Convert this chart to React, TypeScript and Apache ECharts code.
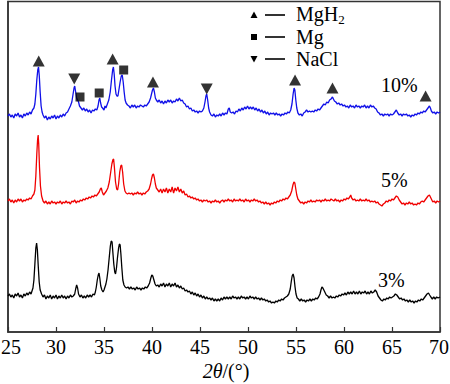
import React, { useEffect, useRef } from "react";
import * as echarts from "echarts";

// 2θ (deg) vs intensity (a.u., offset per curve)
const xTicks = [25, 30, 35, 40, 45, 50, 55, 60, 65, 70];

const curve10: [number, number][] = [
[25.0,216],[25.15,218],[25.3,215],[25.45,217],[25.6,214],[25.75,218],[25.9,216],[26.05,219],[26.2,215],[26.35,217],[26.5,214],[26.65,218],[26.8,216],[26.95,219],[27.1,217],[27.25,220],[27.4,218],[27.55,222],[27.7,224],[27.8,228],[27.9,238],[28.0,252],[28.1,262],[28.18,265],[28.26,256],[28.35,240],[28.45,226],[28.55,220],[28.65,217],[28.8,214],[28.95,216],[29.1,212],[29.25,215],[29.4,213],[29.55,216],[29.7,214],[29.85,217],[30.0,213],[30.15,216],[30.3,214],[30.45,217],[30.6,215],[30.75,218],[30.9,216],[31.05,219],[31.2,220],[31.35,223],[31.5,226],[31.65,230],[31.78,238],[31.88,244],[31.95,246],[32.05,240],[32.15,234],[32.25,232],[32.35,230],[32.45,226],[32.6,224],[32.75,222],[32.9,224],[33.05,221],[33.2,223],[33.35,220],[33.5,222],[33.65,219],[33.8,222],[33.95,221],[34.1,223],[34.25,222],[34.38,226],[34.48,232],[34.56,234],[34.65,229],[34.75,225],[34.85,224],[35.0,222],[35.1,226],[35.2,224],[35.35,228],[35.5,232],[35.65,240],[35.78,252],[35.9,262],[35.98,265],[36.06,258],[36.15,246],[36.25,238],[36.35,236],[36.45,236],[36.55,242],[36.68,250],[36.8,256],[36.9,257],[37.0,250],[37.1,240],[37.2,232],[37.3,229],[37.45,227],[37.6,226],[37.75,224],[37.9,227],[38.05,225],[38.2,227],[38.35,224],[38.5,226],[38.65,225],[38.8,227],[38.95,226],[39.1,225],[39.25,227],[39.4,226],[39.55,228],[39.7,230],[39.85,234],[39.95,238],[40.05,242],[40.15,244],[40.25,240],[40.35,234],[40.45,232],[40.6,230],[40.75,232],[40.9,229],[41.05,231],[41.2,228],[41.35,231],[41.5,229],[41.65,232],[41.8,230],[41.95,232],[42.1,229],[42.25,231],[42.4,230],[42.55,233],[42.7,231],[42.85,234],[43.0,231],[43.15,232],[43.3,229],[43.45,228],[43.6,225],[43.75,226],[43.9,223],[44.05,224],[44.2,221],[44.35,222],[44.5,220],[44.65,221],[44.8,219],[44.95,221],[45.1,220],[45.25,221],[45.4,224],[45.52,230],[45.62,236],[45.7,238],[45.8,232],[45.9,224],[46.0,220],[46.15,217],[46.3,216],[46.45,218],[46.6,215],[46.75,217],[46.9,216],[47.05,218],[47.2,216],[47.35,219],[47.5,217],[47.65,219],[47.8,218],[47.95,223],[48.05,224],[48.15,220],[48.3,219],[48.45,220],[48.6,218],[48.75,221],[48.9,220],[49.05,223],[49.2,221],[49.35,224],[49.5,222],[49.65,225],[49.8,223],[49.95,226],[50.1,223],[50.25,225],[50.4,223],[50.55,225],[50.7,222],[50.85,224],[51.0,221],[51.15,223],[51.3,220],[51.45,222],[51.6,219],[51.75,221],[51.9,218],[52.05,220],[52.2,217],[52.35,219],[52.5,218],[52.65,219],[52.8,217],[52.95,219],[53.1,217],[53.25,218],[53.4,216],[53.55,218],[53.7,217],[53.85,219],[54.0,218],[54.15,220],[54.3,219],[54.45,222],[54.58,228],[54.7,238],[54.8,244],[54.88,242],[54.98,232],[55.08,224],[55.2,219],[55.35,217],[55.5,218],[55.65,216],[55.8,219],[55.95,220],[56.1,222],[56.25,220],[56.4,221],[56.55,220],[56.7,221],[56.85,220],[57.0,222],[57.15,221],[57.3,223],[57.45,222],[57.6,224],[57.75,226],[57.9,228],[58.05,227],[58.2,230],[58.35,229],[58.5,232],[58.65,233],[58.8,235],[58.9,233],[59.0,231],[59.15,230],[59.3,228],[59.45,229],[59.6,227],[59.75,228],[59.9,226],[60.05,227],[60.2,225],[60.35,226],[60.5,224],[60.65,227],[60.8,225],[60.95,226],[61.1,224],[61.25,227],[61.4,225],[61.55,226],[61.7,224],[61.85,226],[62.0,225],[62.15,227],[62.3,224],[62.45,226],[62.6,224],[62.75,227],[62.9,225],[63.05,226],[63.2,224],[63.35,223],[63.5,220],[63.65,219],[63.8,217],[63.95,218],[64.1,216],[64.25,218],[64.4,217],[64.55,218],[64.7,216],[64.85,218],[65.0,217],[65.15,218],[65.3,220],[65.45,222],[65.6,219],[65.75,217],[65.9,218],[66.05,216],[66.2,218],[66.35,217],[66.5,218],[66.65,216],[66.8,217],[66.95,215],[67.1,217],[67.25,216],[67.4,218],[67.55,217],[67.7,219],[67.85,218],[68.0,220],[68.15,219],[68.3,221],[68.45,220],[68.6,222],[68.75,224],[68.9,226],[69.0,224],[69.1,221],[69.25,219],[69.4,220],[69.55,218],[69.7,220],[69.85,219],[70.0,220]
];

const curve5: [number, number][] = [
[25.0,131],[25.15,133],[25.3,130],[25.45,132],[25.6,129],[25.75,132],[25.9,130],[26.05,133],[26.2,131],[26.35,133],[26.5,130],[26.65,132],[26.8,131],[26.95,133],[27.1,132],[27.25,134],[27.4,133],[27.55,136],[27.7,138],[27.8,142],[27.9,156],[28.0,178],[28.08,192],[28.14,197],[28.2,188],[28.28,165],[28.38,146],[28.5,136],[28.65,131],[28.8,129],[28.95,131],[29.1,128],[29.25,130],[29.4,128],[29.55,131],[29.7,129],[29.85,130],[30.0,128],[30.15,130],[30.3,129],[30.45,131],[30.6,128],[30.75,130],[30.9,129],[31.05,131],[31.2,129],[31.35,130],[31.5,128],[31.65,131],[31.8,130],[31.95,132],[32.1,129],[32.25,131],[32.4,130],[32.55,132],[32.7,131],[32.85,133],[33.0,132],[33.15,134],[33.3,133],[33.45,135],[33.6,134],[33.75,136],[33.9,135],[34.05,137],[34.2,136],[34.35,138],[34.5,140],[34.62,143],[34.72,144],[34.82,140],[34.95,137],[35.1,139],[35.25,141],[35.4,144],[35.55,150],[35.7,160],[35.82,168],[35.92,172],[36.0,173],[36.08,165],[36.2,150],[36.32,143],[36.42,142],[36.52,148],[36.64,160],[36.75,166],[36.84,167],[36.94,160],[37.05,148],[37.18,141],[37.3,139],[37.45,138],[37.6,139],[37.75,138],[37.9,139],[38.05,137],[38.2,139],[38.35,138],[38.5,140],[38.65,138],[38.8,139],[38.95,137],[39.1,139],[39.25,138],[39.4,140],[39.55,141],[39.7,143],[39.85,148],[39.95,153],[40.05,157],[40.15,158],[40.25,154],[40.35,148],[40.45,144],[40.6,142],[40.75,140],[40.9,143],[41.05,139],[41.2,143],[41.35,140],[41.5,144],[41.65,139],[41.8,143],[41.95,140],[42.1,145],[42.25,139],[42.4,144],[42.55,141],[42.7,145],[42.85,140],[43.0,143],[43.15,139],[43.3,141],[43.45,137],[43.6,138],[43.75,135],[43.9,136],[44.05,134],[44.2,135],[44.35,133],[44.5,134],[44.65,132],[44.8,133],[44.95,131],[45.1,132],[45.25,130],[45.4,132],[45.55,131],[45.7,132],[45.85,130],[46.0,131],[46.15,129],[46.3,131],[46.45,130],[46.6,132],[46.75,130],[46.9,131],[47.05,129],[47.2,131],[47.35,132],[47.5,130],[47.65,132],[47.8,131],[47.95,133],[48.1,131],[48.25,132],[48.4,130],[48.55,133],[48.7,131],[48.85,132],[49.0,131],[49.15,133],[49.3,131],[49.45,132],[49.6,130],[49.75,133],[49.9,131],[50.05,132],[50.2,130],[50.35,132],[50.5,131],[50.65,133],[50.8,131],[50.95,132],[51.1,130],[51.25,131],[51.4,129],[51.55,130],[51.7,128],[51.85,130],[52.0,128],[52.15,129],[52.3,127],[52.45,129],[52.6,128],[52.75,130],[52.9,129],[53.05,131],[53.2,130],[53.35,132],[53.5,131],[53.65,133],[53.8,132],[53.95,134],[54.1,133],[54.25,135],[54.4,137],[54.55,141],[54.68,147],[54.78,150],[54.88,149],[54.98,143],[55.08,137],[55.2,133],[55.35,131],[55.5,129],[55.65,130],[55.8,128],[55.95,130],[56.1,129],[56.25,131],[56.4,130],[56.55,132],[56.7,130],[56.85,131],[57.0,130],[57.15,132],[57.3,131],[57.45,132],[57.6,130],[57.75,132],[57.9,131],[58.05,133],[58.2,131],[58.35,132],[58.5,131],[58.65,133],[58.8,132],[58.95,131],[59.1,133],[59.25,131],[59.4,132],[59.55,130],[59.7,132],[59.85,131],[60.0,133],[60.15,132],[60.3,134],[60.45,133],[60.6,135],[60.7,137],[60.8,134],[60.95,132],[61.1,133],[61.25,131],[61.4,132],[61.55,131],[61.7,133],[61.85,131],[62.0,132],[62.15,131],[62.3,133],[62.45,131],[62.6,132],[62.75,130],[62.9,131],[63.05,130],[63.2,131],[63.35,129],[63.5,130],[63.65,128],[63.8,127],[63.95,126],[64.1,128],[64.25,129],[64.4,131],[64.55,130],[64.7,132],[64.85,131],[65.0,133],[65.15,132],[65.3,134],[65.45,136],[65.6,135],[65.75,132],[65.9,130],[66.05,128],[66.2,129],[66.35,127],[66.5,129],[66.65,128],[66.8,130],[66.95,128],[67.1,129],[67.25,127],[67.4,128],[67.55,127],[67.7,129],[67.85,128],[68.0,130],[68.15,131],[68.3,130],[68.45,132],[68.6,134],[68.75,136],[68.9,137],[69.0,135],[69.1,133],[69.25,130],[69.4,131],[69.55,129],[69.7,131],[69.85,130],[70.0,131]
];

const curve3: [number, number][] = [
[25.0,36],[25.15,38],[25.3,35],[25.45,37],[25.6,34],[25.75,38],[25.9,36],[26.05,39],[26.2,35],[26.35,37],[26.5,34],[26.65,38],[26.8,36],[26.95,39],[27.1,37],[27.25,40],[27.4,38],[27.5,41],[27.6,44],[27.7,52],[27.8,68],[27.9,84],[27.98,89],[28.06,82],[28.15,66],[28.25,50],[28.35,42],[28.5,38],[28.65,35],[28.8,37],[28.95,33],[29.1,36],[29.25,34],[29.4,37],[29.55,33],[29.7,36],[29.85,34],[30.0,37],[30.15,33],[30.3,36],[30.45,34],[30.6,37],[30.75,34],[30.9,36],[31.05,33],[31.2,36],[31.35,34],[31.5,37],[31.65,35],[31.8,36],[31.95,38],[32.05,43],[32.15,47],[32.25,44],[32.35,38],[32.5,35],[32.65,37],[32.8,34],[32.95,36],[33.1,34],[33.25,37],[33.4,35],[33.55,37],[33.7,35],[33.85,38],[34.0,37],[34.1,40],[34.2,45],[34.3,52],[34.4,57],[34.48,59],[34.56,54],[34.66,46],[34.78,42],[34.9,40],[35.0,42],[35.1,45],[35.2,48],[35.3,53],[35.42,62],[35.55,75],[35.66,86],[35.75,91],[35.84,90],[35.92,80],[36.02,68],[36.12,60],[36.2,58],[36.3,64],[36.4,74],[36.52,84],[36.6,88],[36.68,87],[36.76,78],[36.86,64],[36.96,52],[37.08,47],[37.2,45],[37.35,44],[37.5,45],[37.65,43],[37.8,45],[37.95,43],[38.1,44],[38.25,42],[38.4,45],[38.55,43],[38.7,44],[38.85,42],[39.0,44],[39.15,43],[39.3,45],[39.45,44],[39.6,46],[39.75,49],[39.88,54],[39.98,57],[40.08,56],[40.2,52],[40.32,48],[40.45,46],[40.6,47],[40.75,45],[40.9,48],[41.05,46],[41.2,49],[41.35,45],[41.5,48],[41.65,46],[41.8,49],[41.95,45],[42.1,48],[42.25,46],[42.4,49],[42.55,45],[42.7,47],[42.85,44],[43.0,46],[43.15,43],[43.3,44],[43.45,41],[43.6,42],[43.75,40],[43.9,41],[44.05,38],[44.2,40],[44.35,37],[44.5,39],[44.65,36],[44.8,38],[44.95,35],[45.1,37],[45.25,34],[45.4,36],[45.55,33],[45.7,35],[45.85,33],[46.0,34],[46.15,32],[46.3,34],[46.45,31],[46.6,33],[46.75,31],[46.9,33],[47.05,31],[47.2,34],[47.35,32],[47.5,35],[47.65,33],[47.8,35],[47.95,33],[48.1,35],[48.25,33],[48.4,36],[48.55,34],[48.7,35],[48.85,33],[49.0,35],[49.15,33],[49.3,36],[49.45,34],[49.6,35],[49.75,33],[49.9,35],[50.05,33],[50.2,36],[50.35,34],[50.5,35],[50.65,33],[50.8,35],[50.95,33],[51.1,34],[51.25,32],[51.4,34],[51.55,32],[51.7,33],[51.85,31],[52.0,32],[52.15,30],[52.3,31],[52.45,29],[52.6,30],[52.75,29],[52.9,31],[53.05,30],[53.2,32],[53.35,31],[53.5,33],[53.65,32],[53.8,34],[53.95,35],[54.1,36],[54.25,38],[54.4,43],[54.5,50],[54.6,56],[54.7,58],[54.8,54],[54.9,45],[55.0,38],[55.12,34],[55.25,33],[55.4,31],[55.55,33],[55.7,31],[55.85,32],[56.0,30],[56.15,32],[56.3,31],[56.45,33],[56.6,31],[56.75,33],[56.9,32],[57.05,34],[57.2,33],[57.35,35],[57.5,38],[57.6,42],[57.7,45],[57.8,44],[57.9,42],[58.0,40],[58.15,37],[58.3,36],[58.45,34],[58.6,36],[58.75,34],[58.9,35],[59.05,34],[59.2,36],[59.35,35],[59.5,37],[59.65,36],[59.8,38],[59.95,37],[60.1,39],[60.25,37],[60.4,40],[60.55,38],[60.7,40],[60.85,38],[61.0,41],[61.15,38],[61.3,40],[61.45,38],[61.6,41],[61.75,38],[61.9,40],[62.05,39],[62.2,41],[62.35,38],[62.5,40],[62.65,38],[62.8,41],[62.95,39],[63.1,40],[63.25,42],[63.4,40],[63.55,36],[63.7,34],[63.85,32],[64.0,31],[64.15,33],[64.3,32],[64.45,34],[64.6,33],[64.75,35],[64.9,34],[65.05,35],[65.2,36],[65.35,38],[65.5,37],[65.65,35],[65.8,33],[65.95,34],[66.1,32],[66.25,33],[66.4,31],[66.55,32],[66.7,30],[66.85,32],[67.0,30],[67.15,31],[67.3,29],[67.45,31],[67.6,30],[67.75,32],[67.9,31],[68.05,33],[68.2,32],[68.35,34],[68.5,36],[68.65,38],[68.8,39],[68.92,37],[69.05,35],[69.2,33],[69.35,35],[69.5,33],[69.65,35],[69.8,34],[70.0,35]
];

// phase markers above the 10% curve
const mgh2Marks: [number, number][] = [[28.2, 271], [35.9, 273], [40.1, 250], [54.9, 252], [58.8, 244], [68.5, 236]];
const mgMarks: [number, number][] = [[32.5, 235], [34.5, 239], [37.05, 262]];
const naclMarks: [number, number][] = [[31.9, 253], [45.7, 243]];

const curveLabels = ["10%", "5%", "3%"];
const legendNames = ["MgH2", "Mg", "NaCl"];

const FONT = "Liberation Serif";

export default function App() {
  const ref = useRef<HTMLDivElement>(null);
  useEffect(() => {
    if (!ref.current) return;
    const chart = echarts.init(ref.current, undefined, { renderer: "svg" });

    chart.setOption({
      animation: false,
      backgroundColor: "#fff",
      grid: { left: 8, right: 10, top: 1.5, bottom: 52, show: true, borderColor: "#333", borderWidth: 1.5 },
      xAxis: {
        type: "value",
        min: 25,
        max: 70,
        interval: 5,
        axisLine: { show: true, lineStyle: { color: "#333", width: 1.5 } },
        axisTick: { show: true, inside: true, length: 5, lineStyle: { color: "#333", width: 1.2 } },
        axisLabel: { show: false },
        splitLine: { show: false },
      },
      yAxis: {
        type: "value",
        min: 0,
        max: 330.5,
        axisLine: { show: true, lineStyle: { color: "#333", width: 1.5 } },
        axisTick: { show: false },
        axisLabel: { show: false },
        splitLine: { show: false },
      },
      series: [
        { type: "line", data: curve10, showSymbol: false, lineStyle: { color: "#1010e8", width: 1.3 }, z: 3 },
        { type: "line", data: curve5, showSymbol: false, lineStyle: { color: "#f00000", width: 1.3 }, z: 3 },
        { type: "line", data: curve3, showSymbol: false, lineStyle: { color: "#000", width: 1.3 }, z: 3 },
        { type: "scatter", data: mgh2Marks, symbol: "triangle", symbolSize: [12, 11], itemStyle: { color: "#000" }, z: 5 },
        { type: "scatter", data: mgMarks, symbol: "rect", symbolSize: [9, 9], itemStyle: { color: "#000" }, z: 5 },
        { type: "scatter", data: naclMarks, symbol: "triangle", symbolRotate: 180, symbolSize: [12, 11], itemStyle: { color: "#000" }, z: 5 },
      ],
    });

    // tick labels and axis title placed from the axis scale
    const axisY = chart.convertToPixel({ yAxisIndex: 0 }, 0) as number;
    const x0 = chart.convertToPixel({ xAxisIndex: 0 }, xTicks[0]) as number;
    const x1 = chart.convertToPixel({ xAxisIndex: 0 }, xTicks[xTicks.length - 1]) as number;

    const txt = (x: number, y: number, s: string, align = "left") => ({
      type: "text",
      x,
      y,
      style: { text: s, fontSize: 20, fontFamily: FONT, fill: "#000", verticalAlign: "middle", align },
      z: 10,
    });
    const legendRows = [15, 37, 59];
    const graphic: any[] = [
      ...xTicks.map((v) => {
        const px = chart.convertToPixel({ xAxisIndex: 0 }, v) as number;
        return txt(Math.min(Math.max(px, 11), 439), axisY + 15, String(v), "center");
      }),
      {
        type: "text",
        x: (x0 + x1) / 2 + 2,
        y: axisY + 39,
        style: {
          text: "{i|2θ}{n|/(°)}",
          align: "center",
          verticalAlign: "middle",
          rich: {
            n: { fontSize: 20, fontFamily: FONT, fill: "#000" },
            i: { fontSize: 20, fontFamily: FONT, fill: "#000", fontStyle: "italic" },
          },
        },
        z: 10,
      },
      { type: "polygon", shape: { points: [[254, 11.5], [250.5, 18], [257.5, 18]] }, style: { fill: "#000" }, z: 10 },
      { type: "rect", shape: { x: 251, y: 34, width: 6, height: 6 }, style: { fill: "#000" }, z: 10 },
      { type: "polygon", shape: { points: [[250.5, 56], [257.5, 56], [254, 62.5]] }, style: { fill: "#000" }, z: 10 },
      ...legendRows.map((y) => ({ type: "line", shape: { x1: 265, y1: y, x2: 285, y2: y }, style: { stroke: "#000", lineWidth: 1.6 }, z: 10 })),
      {
        type: "text",
        x: 296,
        y: legendRows[0] - 1,
        style: {
          text: "{a|MgH}{b|2}",
          verticalAlign: "middle",
          rich: {
            a: { fontSize: 20, fontFamily: FONT, fill: "#000" },
            b: { fontSize: 13, fontFamily: FONT, fill: "#000", padding: [11, 0, 0, 0] },
          },
        },
        z: 10,
      },
      txt(296, legendRows[1], legendNames[1]),
      txt(296, legendRows[2], legendNames[2]),
      txt(381, 85, curveLabels[0]),
      txt(381, 180, curveLabels[1]),
      txt(378, 280, curveLabels[2]),
    ];
    chart.setOption({ graphic });
    return () => chart.dispose();
  }, []);
  return <div ref={ref} style={{ position: "fixed", left: 0, top: 0, width: 450, height: 384 }} />;
}
